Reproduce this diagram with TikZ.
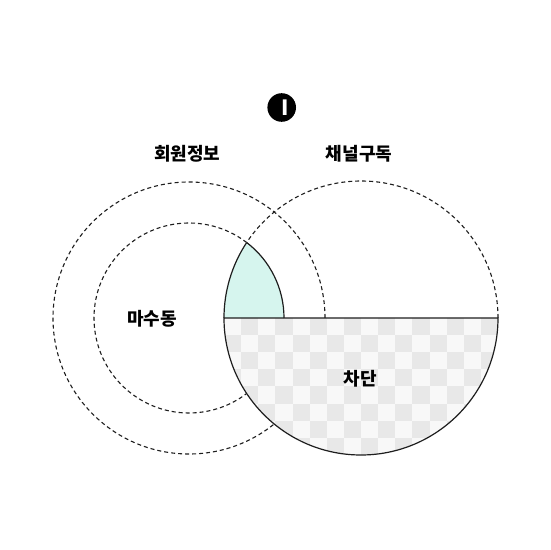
\documentclass[tikz,border=0pt]{standalone}
\usepackage{fontspec}
\newfontfamily\kr{Noto Sans CJK KR}
\usetikzlibrary{calc}
\definecolor{tealfill}{HTML}{D6F5EE}
\definecolor{chklight}{HTML}{F8F8F8}
\definecolor{chkdark}{HTML}{E8E8E8}
\definecolor{ink}{HTML}{1E1E1E}
\begin{document}
\begin{tikzpicture}[x=1pt,y=1pt,
  dashedline/.style={dash pattern=on 4pt off 3pt, line width=1.1pt, draw=ink},
  solidline/.style={line width=1.2pt, draw=ink},
  lbl/.style={font=\kr\bfseries\fontsize{18}{21}\selectfont, text=black, inner sep=0pt}]
\useasboundingbox[fill=white] (0,0) rectangle (550,550);
\coordinate (cl) at (189,232);
\coordinate (cr) at (361,232);
% dashed circles
\draw[dashedline] (cl) circle[radius=136];
\draw[dashedline] ($(cl)+(52.6:95)$) arc[start angle=52.6, end angle=360, radius=95];
\draw[dashedline] ($(cr)+(0:137)$) arc[start angle=0, end angle=146.6, radius=137];
% teal lens
\begin{scope}
  \clip (cl) circle[radius=95];
  \clip (0,232) rectangle (550,550);
  \fill[tealfill] (cr) circle[radius=137];
\end{scope}
% checker half disk
\begin{scope}
  \clip (224,232) arc[start angle=180, end angle=360, radius=137] -- cycle;
  \fill[chklight] (224,95) rectangle (498,232);
  \foreach \i in {0,...,15}{
    \foreach \j in {0,...,7}{
      \pgfmathtruncatemacro\chk{mod(\i+\j,2)}
      \ifnum\chk=1
        \fill[chkdark] (224+\i*17.125, 232-\j*17.125) rectangle ++(17.125,-17.125);
      \fi
    }
  }
\end{scope}
% solid borders
\draw[solidline] (224,232) arc[start angle=180, end angle=360, radius=137] -- cycle;
\draw[solidline] ($(cl)+(0:95)$) arc[start angle=0, end angle=52.6, radius=95];
\draw[solidline] ($(cr)+(146.6:137)$) arc[start angle=146.6, end angle=180, radius=137];
% badge
\node[circle, fill=black, minimum size=28.6pt, inner sep=0pt] (badge) at (281.7,442.5) {};
\node[font=\kr\bfseries\fontsize{21}{24}\selectfont, text=white, inner sep=0pt] (badgetext) at (284.8,442) {I};
% labels
\node[lbl] (member) at (187.2,396) {회원정보};
\node[lbl] (channel) at (359,396) {채널구독};
\node[lbl] (masu) at (152,231) {마수동};
\node[lbl] (block) at (360,171) {차단};
\end{tikzpicture}
\end{document}
